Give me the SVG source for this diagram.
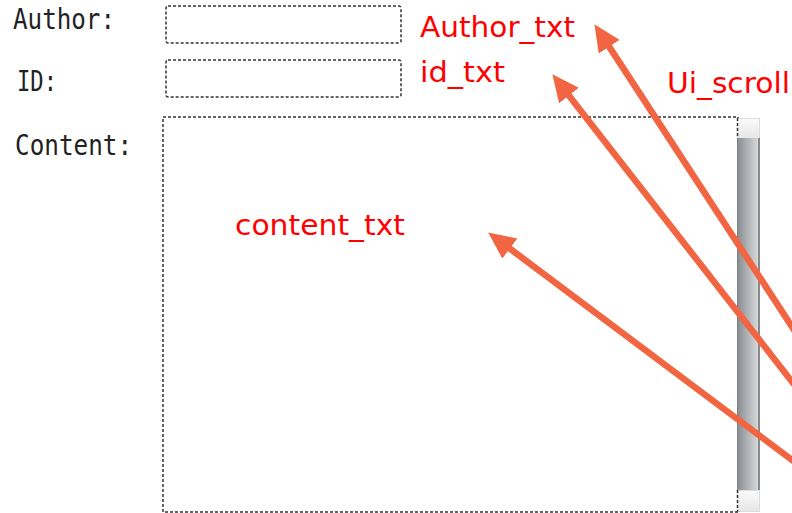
<svg xmlns="http://www.w3.org/2000/svg" width="792" height="513" viewBox="0 0 792 513">
<style>
.lbl{font-family:"DejaVu Sans Mono","Liberation Mono",monospace;font-size:28px;fill:#222}
.red{font-family:"DejaVu Sans","Liberation Sans",sans-serif;font-size:28px;fill:#ff0000}
.box{fill:#fff;stroke:#333;stroke-width:1.5;stroke-dasharray:3 2}
.arrow{stroke:#f26543;stroke-width:6.5;fill:none;marker-end:url(#ah)}
</style>
<defs>
<marker id="ah" markerUnits="userSpaceOnUse" markerWidth="27" markerHeight="25" viewBox="0 0 27 25" refX="4" refY="12.5" orient="auto">
<path d="M0,0 L27,12.5 L0,25 Z" fill="#f26543"/>
</marker>
<linearGradient id="track" x1="0" y1="0" x2="1" y2="0">
<stop offset="0" stop-color="#858a8f"/>
<stop offset="0.5" stop-color="#b4b7ba"/>
<stop offset="1" stop-color="#dcdedf"/>
</linearGradient>
<linearGradient id="btn" x1="0" y1="0" x2="0" y2="1">
<stop offset="0" stop-color="#fbfbfb"/>
<stop offset="1" stop-color="#e6e6e6"/>
</linearGradient>
</defs>
<rect width="792" height="513" fill="#fff"/>
<g id="author_label"><text class="lbl" x="13" y="29" textLength="102" lengthAdjust="spacingAndGlyphs">Author:</text></g>
<g id="id_label"><text class="lbl" x="17" y="91" textLength="40" lengthAdjust="spacingAndGlyphs">ID:</text></g>
<g id="content_label"><text class="lbl" x="15" y="155" textLength="117" lengthAdjust="spacingAndGlyphs">Content:</text></g>
<g id="author_box"><rect class="box" x="166" y="6" width="235" height="37" rx="2"/></g>
<g id="id_box"><rect class="box" x="166" y="60" width="235" height="37" rx="2"/></g>
<g id="content_box"><rect class="box" x="163" y="117" width="575" height="395"/></g>
<g id="scrollbar">
<rect x="737.5" y="118.5" width="22" height="20" fill="url(#btn)" stroke="#dcdcdc"/>
<rect x="737" y="138" width="23" height="352" fill="url(#track)"/>
<line x1="759" y1="138" x2="759" y2="490" stroke="#6a6f74" stroke-width="1.5"/>
<line x1="737.5" y1="138" x2="737.5" y2="490" stroke="#7c8186" stroke-width="1"/>
<rect x="737.5" y="490.5" width="22" height="21" fill="url(#btn)" stroke="#dcdcdc"/>
<line x1="737.5" y1="118" x2="737.5" y2="138" stroke="#333" stroke-width="1.5" stroke-dasharray="3 2"/>
<line x1="737.5" y1="490" x2="737.5" y2="512" stroke="#333" stroke-width="1.5" stroke-dasharray="3 2"/>
</g>
<g id="labels">
<text class="red" x="420" y="37" textLength="155" lengthAdjust="spacingAndGlyphs">Author_txt</text>
<text class="red" x="420" y="82" textLength="85" lengthAdjust="spacingAndGlyphs">id_txt</text>
<text class="red" x="667" y="93" textLength="123" lengthAdjust="spacingAndGlyphs">Ui_scroll</text>
<text class="red" x="235" y="235" textLength="170" lengthAdjust="spacingAndGlyphs">content_txt</text>
</g>
<g id="connectors">
<line class="arrow" x1="800" y1="339" x2="607" y2="43.4"/>
<line class="arrow" x1="800" y1="392" x2="566.5" y2="92.4"/>
<line class="arrow" x1="800" y1="466" x2="506.6" y2="246.2"/>
</g>
</svg>
